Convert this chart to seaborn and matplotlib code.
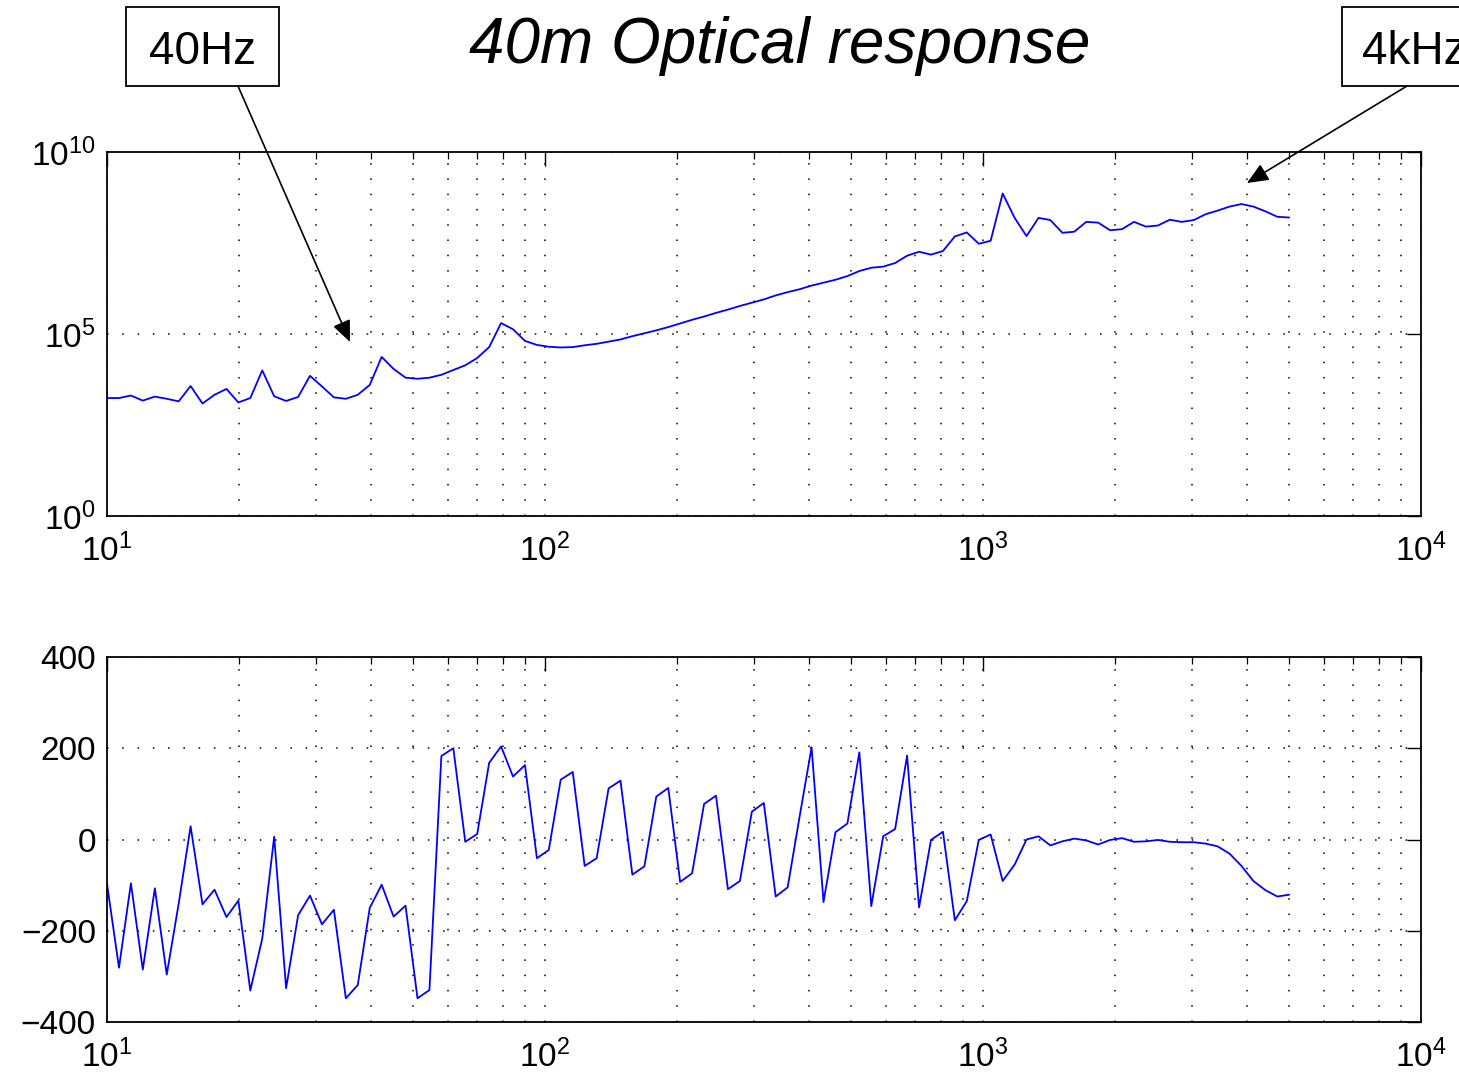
import numpy as np
import pandas as pd
import matplotlib
matplotlib.use("Agg")
import matplotlib.pyplot as plt
import seaborn as sns
from matplotlib.ticker import (LogLocator, NullLocator, NullFormatter, FixedLocator,
                               LogFormatterSciNotation)
from matplotlib.patches import Rectangle, FancyArrowPatch

# ---------------- data ----------------
freq_hz = [10.00, 10.65, 11.34, 12.07, 12.86, 13.69, 14.58, 15.52, 16.52, 17.60,
           18.74, 19.95, 21.24, 22.62, 24.08, 25.64, 27.31, 29.07, 30.96, 32.96,
           35.10, 37.37, 39.80, 42.37, 45.12, 48.04, 51.16, 54.47, 58.00, 61.76,
           65.76, 70.02, 74.56, 79.39, 84.53, 90.01, 95.84, 102.0, 108.6, 115.7,
           123.2, 131.2, 139.7, 148.7, 158.3, 168.6, 179.5, 191.2, 203.5, 216.7,
           230.8, 245.7, 261.6, 278.6, 296.7, 315.9, 336.3, 358.1, 381.3, 406.1,
           432.4, 460.4, 490.2, 522.0, 555.8, 591.8, 630.1, 671.0, 714.5, 760.8,
           810.1, 862.5, 918.4, 978.0, 1041, 1109, 1181, 1257, 1339, 1425,
           1518, 1616, 1721, 1832, 1951, 2077, 2212, 2355, 2508, 2670,
           2843, 3028, 3224, 3433, 3655, 3892, 4144, 4413, 4699, 5000]

mag_log10 = [3.24, 3.24, 3.31, 3.17, 3.28, 3.22, 3.15, 3.57, 3.09, 3.33,
             3.49, 3.12, 3.24, 4.00, 3.29, 3.16, 3.27, 3.85, 3.56, 3.26,
             3.22, 3.33, 3.60, 4.37, 4.04, 3.80, 3.77, 3.80, 3.88, 4.01,
             4.14, 4.34, 4.64, 5.30, 5.13, 4.81, 4.70, 4.65, 4.63, 4.64,
             4.69, 4.73, 4.79, 4.85, 4.94, 5.02, 5.10, 5.19, 5.29, 5.39,
             5.48, 5.58, 5.67, 5.77, 5.86, 5.95, 6.06, 6.15, 6.23, 6.33,
             6.41, 6.49, 6.59, 6.73, 6.82, 6.85, 6.95, 7.15, 7.26, 7.18,
             7.28, 7.68, 7.79, 7.48, 7.56, 8.86, 8.19, 7.69, 8.19, 8.13,
             7.78, 7.81, 8.08, 8.06, 7.85, 7.88, 8.08, 7.95, 7.98, 8.14,
             8.08, 8.13, 8.29, 8.39, 8.50, 8.57, 8.50, 8.37, 8.22, 8.20]

phase_deg = [-97, -281, -96, -285, -107, -296, -140, 29, -142, -110,
             -170, -134, -331, -217, 6, -326, -166, -123, -186, -154,
             -348, -319, -150, -99, -169, -145, -348, -330, 183, 200,
             -5, 12, 168, 204, 138, 163, -41, -23, 131, 148,
             -58, -41, 112, 129, -77, -59, 94, 113, -93, -74,
             78, 96, -109, -91, 61, 80, -125, -105, 50, 202,
             -137, 16, 35, 191, -146, 7, 23, 184, -149, -1,
             17, -177, -135, -1, 11, -91, -55, 0, 7, -13,
             -4, 2, -2, -11, -1, 3, -5, -4, -1, -5,
             -6, -6, -9, -15, -31, -58, -91, -111, -125, -121]

title_text = "40m Optical response"
note_left = "40Hz"
note_right = "4kHz"
mag_yticks = [1e0, 1e5, 1e10]
phase_yticks = [-400, -200, 0, 200, 400]
x_major = [1e1, 1e2, 1e3, 1e4]

df = pd.DataFrame({"freq": freq_hz,
                   "mag": 10.0 ** np.array(mag_log10),
                   "phase": phase_deg})

# ---------------- style ----------------
sns.set_theme(style="white")
plt.rcParams["font.family"] = ["Liberation Sans", "DejaVu Sans"]
plt.rcParams["mathtext.fontset"] = "custom"
plt.rcParams["mathtext.rm"] = "Liberation Sans"
plt.rcParams["mathtext.it"] = "Liberation Sans:italic"
plt.rcParams["mathtext.bf"] = "Liberation Sans:bold"
plt.rcParams["axes.unicode_minus"] = True
plt.rcParams["text.color"] = "black"

W, H = 1459, 1077
fig = plt.figure(figsize=(W / 100, H / 100), dpi=100)
fig.patch.set_facecolor("white")

def fx(px):
    return px / W

def fy(py):
    return 1 - py / H

ax1 = fig.add_axes([fx(107), fy(516), fx(1421) - fx(107), fy(152) - fy(516)])
ax2 = fig.add_axes([fx(107), fy(1022), fx(1421) - fx(107), fy(657) - fy(1022)])

line_kw = dict(color=(0, 0, 1), linewidth=1.3, estimator=None, sort=False)
sns.lineplot(data=df, x="freq", y="mag", ax=ax1, **line_kw)
sns.lineplot(data=df, x="freq", y="phase", ax=ax2, **line_kw)

grid_kw = dict(color="black", linestyle=(0, (1, 9)), linewidth=1.1)

for ax in (ax1, ax2):
    ax.set_xscale("log")
    ax.set_xlim(10, 1e4)
    ax.xaxis.set_major_locator(FixedLocator(x_major))
    ax.xaxis.set_major_formatter(LogFormatterSciNotation())
    ax.xaxis.set_minor_locator(LogLocator(base=10, subs=np.arange(2, 10)))
    ax.xaxis.set_minor_formatter(NullFormatter())
    ax.set_xlabel("")
    ax.set_ylabel("")
    ax.tick_params(which="both", direction="in", top=True, right=True,
                   colors="black", labelcolor="black", labelsize=24)
    ax.tick_params(which="major", length=10, width=1.0)
    ax.tick_params(which="minor", length=5, width=0.9)
    ax.tick_params(axis="x", which="major", pad=13)
    ax.tick_params(axis="y", which="major", pad=8)
    for s in ax.spines.values():
        s.set_color("black")
        s.set_linewidth(1.3)
        s.set_visible(True)
    ax.grid(False)
    ax.grid(True, which="both", axis="x", **grid_kw)

ax1.set_yscale("log")
ax1.set_ylim(1, 1e10)
ax1.yaxis.set_major_locator(FixedLocator(mag_yticks))
ax1.yaxis.set_major_formatter(LogFormatterSciNotation())
ax1.yaxis.set_minor_locator(NullLocator())
ax1.yaxis.set_minor_formatter(NullFormatter())
ax1.grid(True, which="major", axis="y", **grid_kw)

ax2.set_ylim(-400, 400)
ax2.set_yticks(phase_yticks)
ax2.yaxis.set_minor_locator(NullLocator())
ax2.grid(True, which="major", axis="y", **grid_kw)

# ---------------- title and annotations ----------------
fig.text(fx(780), fy(63), title_text, fontsize=46, style="italic",
         ha="center", va="baseline", color="black")

box_kw = dict(transform=fig.transFigure, facecolor="white", edgecolor="black",
              linewidth=1.3, clip_on=False)
fig.add_artist(Rectangle((fx(126), fy(86)), fx(279) - fx(126), fy(7) - fy(86), **box_kw))
fig.add_artist(Rectangle((fx(1342), fy(86)), fx(1495) - fx(1342), fy(7) - fy(86), **box_kw))
fig.text(fx(202), fy(64), note_left, fontsize=33, ha="center", va="baseline", color="black")
fig.text(fx(1362), fy(64), note_right, fontsize=33, ha="left", va="baseline", color="black")

arrow_kw = dict(arrowstyle="-|>,head_length=0.65,head_width=0.28", color="black",
                lw=1.2, mutation_scale=20, shrinkA=0, shrinkB=0)
fig.add_artist(FancyArrowPatch((fx(238), fy(86)), (fx(350), fy(342)),
                               transform=fig.transFigure, **arrow_kw))
fig.add_artist(FancyArrowPatch((fx(1407), fy(86)), (fx(1247), fy(183)),
                               transform=fig.transFigure, **arrow_kw))

fig.savefig("out.png", dpi=100, facecolor="white")
